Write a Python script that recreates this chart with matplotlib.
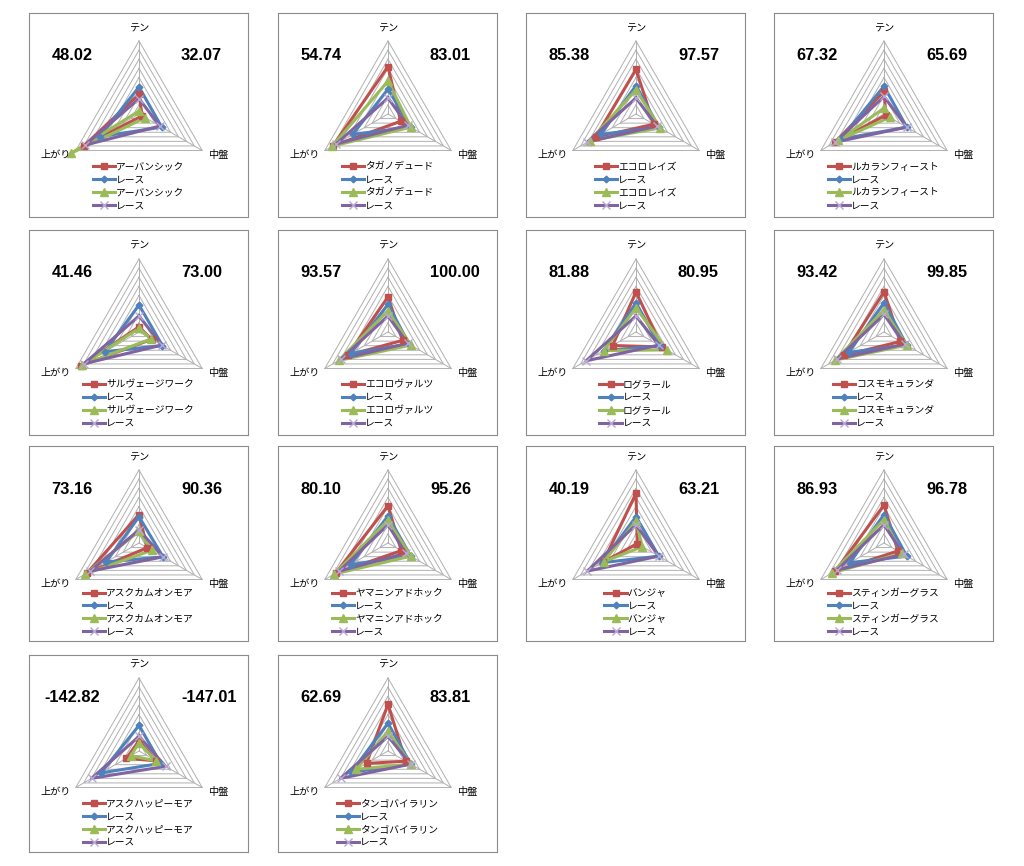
import numpy as np
import matplotlib
matplotlib.use('Agg')
import matplotlib.pyplot as plt
from matplotlib.lines import Line2D

plt.rcParams['font.family'] = ['Noto Sans CJK JP', 'DejaVu Sans']

axis_labels = ['テン', '中盤', '上がり']

horses = ['アーバンシック', 'タガノデュード', 'エコロレイズ', 'ルカランフィースト',
          'サルヴェージワーク', 'エコロヴァルツ', 'ログラール', 'コスモキュランダ',
          'アスクカムオンモア', 'ヤマニンアドホック', 'バンジャ', 'スティンガーグラス',
          'アスクハッピーモア', 'タンゴバイラリン']
race_label = 'レース'

left_scores = ['48.02', '54.74', '85.38', '67.32', '41.46', '93.57', '81.88',
               '93.42', '73.16', '80.10', '40.19', '86.93', '-142.82', '62.69']
right_scores = ['32.07', '83.01', '97.57', '65.69', '73.00', '100.00', '80.95',
                '99.85', '90.36', '95.26', '63.21', '96.78', '-147.01', '83.81']

# % of outer ring, order: テン, 中盤, 上がり
horse_a = [[27, 5, 87], [65, 20, 87], [61, 28, 64], [31, 3, 77],
           [7, 20, 92], [48, 23, 64], [55, 41, 37], [55, 26, 64],
           [39, 13, 82], [51, 21, 83], [68, 2, 52], [52, 22, 77],
           [14, 27, 20], [64, 28, 34]]
race_a = [[37, 36, 62], [34, 36, 56], [39, 36, 56], [38, 36, 69],
          [37, 37, 54], [38, 33, 59], [40, 38, 51], [40, 36, 56],
          [36, 38, 52], [37, 36, 59], [36, 36, 54], [39, 36, 54],
          [35, 34, 60], [38, 36, 58]]
horse_b = [[4, 10, 108], [45, 36, 88], [33, 38, 73], [8, 9, 72],
           [5, 19, 90], [29, 36, 78], [33, 49, 51], [30, 36, 77],
           [16, 20, 85], [31, 36, 85], [30, 10, 51], [32, 28, 82],
           [11, 27, 13], [27, 36, 50]]
race_b = [[21, 33, 85], [22, 31, 82], [22, 33, 77], [24, 36, 77],
          [22, 36, 87], [22, 31, 74], [22, 36, 79], [24, 33, 74],
          [18, 38, 77], [25, 28, 77], [25, 36, 77], [25, 31, 74],
          [20, 42, 75], [20, 36, 75]]

W, H = 1024, 866
col_x = [29, 278, 526, 774]
row_y = [13, 230, 446, 655]
row_h = [204, 205, 195, 197]
row_cy = [101, 102, 97, 96]
pw = 219
cx = 110
R = 73
n_rings = 8
angles = np.deg2rad([90, -30, 210])

styles = [
    dict(color='#C0504D', marker='s', ms=4.8, mfc='#C0504D', mec='#C0504D'),
    dict(color='#4F81BD', marker='D', ms=3.4, mfc='#4F81BD', mec='#4F81BD'),
    dict(color='#9BBB59', marker='^', ms=5.8, mfc='#9BBB59', mec='#9BBB59'),
    dict(color='#8064A2', marker='x', ms=5.5, mfc='none', mec='#B7A8D3', mew=1.0),
]


def radar_xy(vals, cy):
    r = np.array(vals + [vals[0]], dtype=float) / 100.0 * R
    a = np.append(angles, angles[0])
    return cx + r * np.cos(a), cy - r * np.sin(a)


fig = plt.figure(figsize=(W / 100, H / 100), dpi=100)

for i, name in enumerate(horses):
    row, col = divmod(i, 4)
    x0, y0, h = col_x[col], row_y[row], row_h[row]
    cy = row_cy[row]
    ax = fig.add_axes([x0 / W, 1 - (y0 + h) / H, pw / W, h / H])
    ax.set_xlim(0, pw)
    ax.set_ylim(h, 0)
    ax.set_xticks([])
    ax.set_yticks([])
    for s in ax.spines.values():
        s.set_color('#8c8c8c')
        s.set_linewidth(0.8)

    # grid triangles and spokes
    for k in range(1, n_rings + 1):
        gx, gy = radar_xy([100 * k / n_rings] * 3, cy)
        ax.plot(gx, gy, color='#b0b0b0', lw=0.7, zorder=1)
    for a in angles:
        ax.plot([cx, cx + R * np.cos(a)], [cy, cy - R * np.sin(a)],
                color='#b0b0b0', lw=0.7, zorder=1)

    series = [horse_a[i], race_a[i], horse_b[i], race_b[i]]
    labels = [name, race_label, name, race_label]
    handles = []
    for vals, st, lab in zip(series, styles, labels):
        sx, sy = radar_xy(vals, cy)
        ax.plot(sx[:-1], sy[:-1], ls='none', marker=st['marker'], ms=st['ms'],
                mfc=st['mfc'], mec=st['mec'], mew=st.get('mew', 1.0), zorder=3)
        ax.plot(sx, sy, color=st['color'], lw=2.2, zorder=2)
        handles.append(Line2D([], [], color=st['color'], lw=2.2, marker=st['marker'],
                              ms=st['ms'], mfc=st['mfc'], mec=st['mec'],
                              mew=st.get('mew', 1.0), label=lab))

    ax.text(cx, cy - R - 13, axis_labels[0], ha='center', va='center', fontsize=7.3)
    ax.text(cx + 79, cy + 41, axis_labels[1], ha='center', va='center', fontsize=7.3)
    ax.text(27, cy + 41, axis_labels[2], ha='center', va='center', fontsize=7.3)

    ax.text(43, 43, left_scores[i], ha='center', va='center', fontsize=11.8,
            fontweight='bold', family='Liberation Sans')
    ax.text(152, 43, right_scores[i], ha='left', va='center', fontsize=11.8,
            fontweight='bold', family='Liberation Sans')

    ax.legend(handles=handles, loc='upper center', bbox_to_anchor=(0.5, 0.272),
              frameon=False, fontsize=7.0, handlelength=2.3, handletextpad=0.1,
              labelspacing=0.3, borderpad=0, borderaxespad=0)

fig.savefig('out.png', dpi=100)
